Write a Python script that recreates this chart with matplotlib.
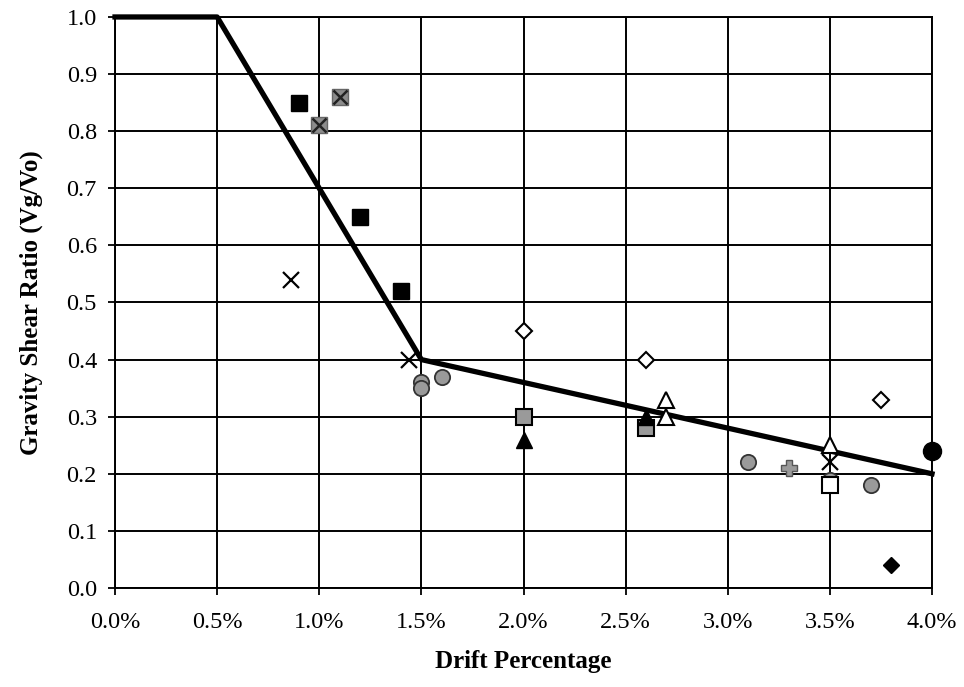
import matplotlib.pyplot as plt
import numpy as np
plt.switch_backend("agg")

plt.rcParams["font.family"] = ["Liberation Serif", "DejaVu Serif"]

# design envelope (drift %, Vg/Vo)
env_x = [0.0, 0.5, 1.5, 4.0]
env_y = [1.0, 1.0, 0.4, 0.2]

# test data, grouped by marker style
sq_fill_x = [0.9, 1.2, 1.4]
sq_fill_y = [0.85, 0.65, 0.52]
cross_x = [0.86, 1.44, 3.5]
cross_y = [0.54, 0.40, 0.22]
sqx_gray_x = [1.0, 1.1]
sqx_gray_y = [0.81, 0.86]
circ_gray_x = [1.5, 1.5, 1.6, 3.1, 3.5, 3.7]
circ_gray_y = [0.36, 0.35, 0.37, 0.22, 0.19, 0.18]
dia_open_x = [2.0, 2.6, 3.75]
dia_open_y = [0.45, 0.40, 0.33]
sq_gray_x = [2.0, 2.6]
sq_gray_y = [0.30, 0.28]
tri_fill_x = [2.0, 2.6]
tri_fill_y = [0.26, 0.30]
tri_open_x = [2.7, 2.7, 3.5]
tri_open_y = [0.33, 0.30, 0.25]
plus_x = [3.3]
plus_y = [0.21]
sq_open_x = [3.5]
sq_open_y = [0.18]
circ_fill_x = [4.0]
circ_fill_y = [0.24]
dia_fill_x = [3.8]
dia_fill_y = [0.04]

xt = np.arange(0, 4.01, 0.5)
yt = np.arange(0, 1.01, 0.1)

fig = plt.figure(figsize=(9.64, 6.87), dpi=100)
ax = fig.add_axes([0.1193, 0.1441, 0.8475, 0.8312])

ax.set_xlim(0, 4.0)
ax.set_ylim(0, 1.0)
ax.set_xticks(xt)
ax.set_xticklabels(["%.1f%%" % v for v in xt])
ax.set_yticks(yt)
ax.set_yticklabels(["%.1f" % v for v in yt])
ax.grid(True, color="black", lw=1.4)
ax.set_axisbelow(True)
for s in ax.spines.values():
    s.set_linewidth(1.4)
ax.tick_params(direction="out", length=5, width=1.3, labelsize=17.5)
ax.tick_params(axis="x", pad=12.5)
ax.tick_params(axis="y", pad=8)

ax.plot(env_x, env_y, color="black", lw=3.8, zorder=3, clip_on=False)

ms = 11
ax.plot(sq_fill_x, sq_fill_y, "s", color="black", ms=ms, zorder=4)
ax.plot(cross_x, cross_y, "x", color="black", ms=ms, mew=1.6, zorder=4)
ax.plot(sqx_gray_x, sqx_gray_y, "s", mfc="#8c8c8c", mec="#666666", ms=ms, zorder=4)
ax.plot(sqx_gray_x, sqx_gray_y, "x", color="#222222", ms=ms - 1, mew=1.8, zorder=5)
ax.plot(circ_gray_x, circ_gray_y, "o", mfc="#9a9a9a", mec="#333333", ms=ms, mew=1.3, zorder=4)
ax.plot(dia_open_x, dia_open_y, "D", mfc="white", mec="black", ms=8.5, mew=1.5, zorder=4)
ax.plot(sq_gray_x, sq_gray_y, "s", mfc="#9a9a9a", mec="black", ms=ms, mew=1.5, zorder=4)
ax.plot(tri_fill_x, tri_fill_y, "^", color="black", ms=ms + 1, zorder=4)
ax.plot(tri_open_x, tri_open_y, "^", mfc="white", mec="black", ms=ms + 1, mew=1.5, zorder=4)
ax.plot(plus_x, plus_y, "P", mfc="#9a9a9a", mec="#555555", ms=ms, zorder=4)
ax.plot(sq_open_x, sq_open_y, "s", mfc="white", mec="black", ms=ms, mew=1.5, zorder=4)
ax.plot(circ_fill_x, circ_fill_y, "o", color="black", ms=ms + 2, zorder=4, clip_on=False)
ax.plot(dia_fill_x, dia_fill_y, "D", color="black", ms=8.5, zorder=4)

ax.set_xlabel("Drift Percentage", fontsize=18, fontweight="bold", labelpad=12)
ax.set_ylabel("Gravity Shear Ratio (Vg/Vo)", fontsize=18, fontweight="bold", labelpad=17)

fig.savefig("out.png", dpi=100)
plt.close()
